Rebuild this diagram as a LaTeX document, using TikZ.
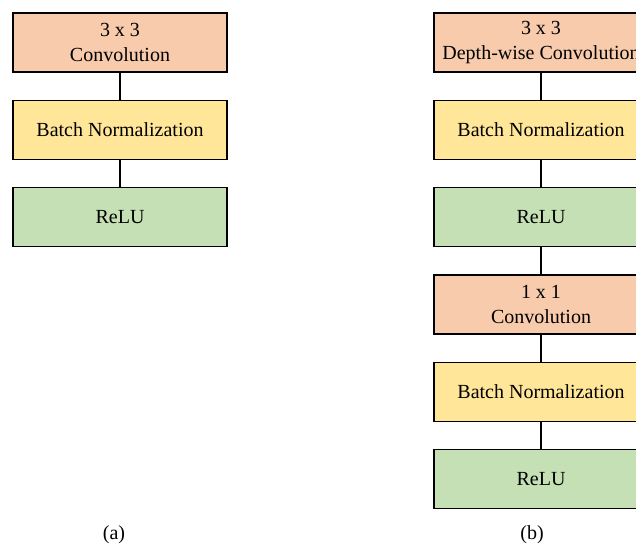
\documentclass[tikz,border=0pt]{standalone}
\usepackage{fontspec}
\setmainfont{Liberation Serif}
\usetikzlibrary{positioning}
\tikzstyle{figure} = [x = 1pt, y = -1pt]
\definecolor{convColor}{RGB}{248,203,173}
\definecolor{normColor}{RGB}{255,230,153}
\definecolor{reluColor}{RGB}{197,224,180}
\tikzstyle{layerBox} = [draw=black, line width=1.3pt, minimum width=214pt, minimum height=59pt, inner sep=0pt, align=center, font=\fontsize{20}{25}\selectfont]
\tikzstyle{convLayer} = [layerBox, fill=convColor]
\tikzstyle{normLayer} = [layerBox, fill=normColor]
\tikzstyle{reluLayer} = [layerBox, fill=reluColor]
\tikzstyle{layerLink} = [line width=1.3pt]
\tikzstyle{caption} = [font=\fontsize{20}{24}\selectfont, inner sep=0pt]

\begin{document}
\begin{tikzpicture}[figure, node distance=27pt]
  \useasboundingbox (0,0) rectangle (636,544);

  % (a) plain convolution block
  \node [convLayer] (convA) at (120,42.5) {3 x 3\\Convolution};
  \node [normLayer, below=of convA] (normA) {Batch Normalization};
  \node [reluLayer, below=of normA] (reluA) {ReLU};
  \draw [layerLink] (convA) -- (normA);
  \draw [layerLink] (normA) -- (reluA);

  % (b) depth-wise separable block
  \node [convLayer] (dwConvB) at (541,42.5) {3 x 3\\Depth-wise Convolution};
  \node [normLayer, below=of dwConvB] (dwNormB) {Batch Normalization};
  \node [reluLayer, below=of dwNormB] (dwReluB) {ReLU};
  \node [convLayer, below=of dwReluB] (pwConvB) {1 x 1\\Convolution};
  \node [normLayer, below=of pwConvB] (pwNormB) {Batch Normalization};
  \node [reluLayer, below=of pwNormB] (pwReluB) {ReLU};
  \draw [layerLink] (dwConvB) -- (dwNormB);
  \draw [layerLink] (dwNormB) -- (dwReluB);
  \draw [layerLink] (dwReluB) -- (pwConvB);
  \draw [layerLink] (pwConvB) -- (pwNormB);
  \draw [layerLink] (pwNormB) -- (pwReluB);

  \node [caption] (captionA) at (114,535) {(a)};
  \node [caption] (captionB) at (532,535) {(b)};
\end{tikzpicture}
\end{document}
